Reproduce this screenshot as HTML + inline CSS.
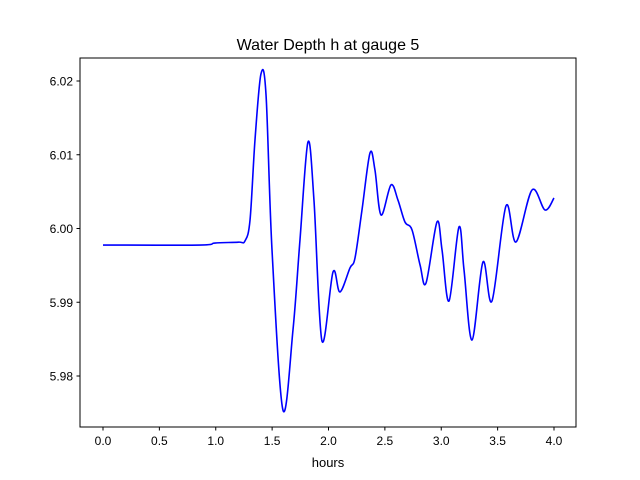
<!DOCTYPE html>
<html><head><meta charset="utf-8">
<style>
body{margin:0;background:#fff;}
svg{display:block;font-family:"Liberation Sans","DejaVu Sans",sans-serif;}
</style></head>
<body>
<svg id="chart" width="640" height="480">
<rect x="0" y="0" width="640" height="480" fill="#fff"/>
<text x="328" y="50" text-anchor="middle" font-size="16">Water Depth h at gauge 5</text>
<g id="plot"></g>
<rect x="80" y="58" width="496" height="369" fill="none" stroke="#000" stroke-width="1"/>
<text x="328" y="467" text-anchor="middle" font-size="13">hours</text>
</svg>
<script>
const hours=[0,0.86,0.993,1.2,1.259,1.304,1.348,1.401,1.446,1.499,1.596,1.685,1.747,1.818,1.871,1.942,2.04,2.101,2.19,2.235,2.297,2.368,2.412,2.466,2.554,2.616,2.678,2.741,2.812,2.865,2.962,3.007,3.069,3.157,3.202,3.273,3.37,3.45,3.574,3.663,3.805,3.92,4.0];
const depth=[5.99776,5.99776,5.99803,5.99815,5.99831,6.00115,6.0120,6.02095,6.0181,5.99708,5.97539,5.98624,5.99844,6.01173,6.00386,5.98475,5.9941,5.99139,5.99464,5.996,6.00251,6.01024,6.00793,6.00183,6.0059,6.00386,6.00088,5.9998,5.99505,5.99261,6.00088,5.99708,5.99017,6.0002,5.99437,5.98488,5.99546,5.99017,6.00305,5.99817,6.00522,6.00251,6.00414];
const xTicks=[0,0.5,1,1.5,2,2.5,3,3.5,4];
const xTickLabels=["0.0","0.5","1.0","1.5","2.0","2.5","3.0","3.5","4.0"];
const yTicks=[5.98,5.99,6.00,6.01,6.02];
const yTickLabels=["5.98","5.99","6.00","6.01","6.02"];
const NS="http://www.w3.org/2000/svg";
const xS=h=>103+h*112.75;
const yS=v=>228.5-(v-6.0)*7375;
const g=document.getElementById('plot');
function mk(t,a){const e=document.createElementNS(NS,t);for(const k in a)e.setAttribute(k,a[k]);return e;}
xTicks.forEach((t,i)=>{
  const x=xS(t);
  const l=mk('line',{x1:x,x2:x,y1:427,y2:430.5,stroke:'#000'});
  
  
  g.appendChild(l);
  const tx=mk('text',{x:x,y:445,'text-anchor':'middle','font-size':'12'});
  tx.textContent=xTickLabels[i];
  
  
  g.appendChild(tx);
});
yTicks.forEach((t,i)=>{
  const y=yS(t);
  const l=mk('line',{x1:76.5,x2:80,y1:y,y2:y,stroke:'#000'});
  
  
  g.appendChild(l);
  const tx=mk('text',{x:73,y:y+4.5,'text-anchor':'end','font-size':'12'});
  tx.textContent=yTickLabels[i];
  
  
  g.appendChild(tx);
});
const P=hours.map((h,i)=>[xS(h),yS(depth[i])]);
let d='M'+P[0][0]+','+P[0][1];
for(let i=0;i<P.length-1;i++){
  const p0=P[Math.max(0,i-1)],p1=P[i],p2=P[i+1],p3=P[Math.min(P.length-1,i+2)];
  const c1=[p1[0]+(p2[0]-p0[0])/6,p1[1]+(p2[1]-p0[1])/6];
  const c2=[p2[0]-(p3[0]-p1[0])/6,p2[1]-(p3[1]-p1[1])/6];
  d+=` C${c1[0]},${c1[1]} ${c2[0]},${c2[1]} ${p2[0]},${p2[1]}`;
}
const path=mk('path',{d:d,fill:'none',stroke:'#0000ff','stroke-width':'1.6','stroke-linejoin':'round'});


g.appendChild(path);
</script>
</body></html>
